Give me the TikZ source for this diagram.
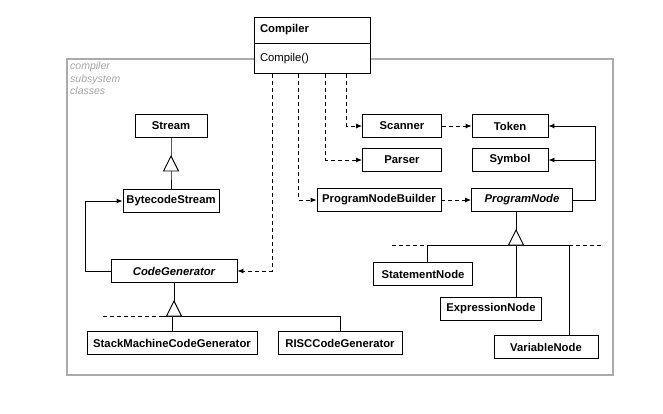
\documentclass[tikz,border=0pt]{standalone}
\usepackage{fontspec}
\setmainfont{Liberation Sans}
\usetikzlibrary{arrows.meta, calc}
\definecolor{FrameGray}{HTML}{ABABAB}
\definecolor{NoteGray}{HTML}{A3A3A3}
\tikzset{
  cls/.style={draw=black, line width=0.9pt, fill=white, minimum height=23pt, inner sep=2pt, font=\fontsize{11.3}{13}\selectfont\bfseries},
  abscls/.style={cls, font=\fontsize{11.3}{13}\selectfont\bfseries\itshape},
  head/.style={draw=black, line width=0.9pt, fill=white, minimum width=116pt, text width=104pt, align=left, inner sep=0pt, font=\fontsize{11.3}{13}\selectfont},
  assoc/.style={-{Latex[length=6pt,width=5pt]}, line width=0.9pt},
  dep/.style={assoc, dash pattern=on 4pt off 3pt},
  line/.style={line width=0.9pt},
  dline/.style={line width=0.9pt, dash pattern=on 4pt off 3pt},
  inherit/.style={line width=0.9pt, fill=white, line join=miter}
}

\begin{document}
\begin{tikzpicture}[x=1pt, y=-1pt]
\useasboundingbox (0,0) rectangle (663,413);
% subsystem frame
\draw[FrameGray, line width=2pt] (67,59) rectangle (613,375);
\node[anchor=north west, inner sep=0pt, align=left, text=NoteGray, font=\fontsize{10.5}{12.2}\selectfont\itshape] (note) at (70,62) {compiler\\subsystem\\classes};

% compiler class
\node[head, minimum height=26pt, font=\fontsize{11.3}{13}\selectfont\bfseries] (comp) at (312,30) {Compiler};
\node[head, minimum height=30pt, anchor=north] (compop) at (comp.south) {Compile()};

% code generation side
\node[cls, minimum width=72pt] (stream) at (171,126) {Stream};
\node[cls, minimum width=96pt] (bstream) at (171,201) {BytecodeStream};
\node[abscls, minimum width=126pt] (codegen) at (174,271) {CodeGenerator};
\node[cls, minimum width=170pt] (smcg) at (172,343) {StackMachineCodeGenerator};
\node[cls, minimum width=124pt] (riscg) at (340,343) {RISCCodeGenerator};

% parsing side
\node[cls, minimum width=79pt] (scanner) at (402,126) {Scanner};
\node[cls, minimum width=76pt] (token) at (510,126) {Token};
\node[cls, minimum width=79pt] (parser) at (402,160) {Parser};
\node[cls, minimum width=76pt] (symbol) at (510,160) {Symbol};
\node[cls, minimum width=124pt] (pnb) at (379,200) {ProgramNodeBuilder};
\node[abscls, minimum width=101pt] (pnode) at (522,200) {ProgramNode};
\node[cls, minimum width=99pt] (stmt) at (423,274) {StatementNode};
\node[cls, minimum width=101pt] (expr) at (491,309) {ExpressionNode};
\node[cls, minimum width=104pt] (var) at (546,347) {VariableNode};

% inheritance: Stream
\coordinate (t1) at (stream.south |- 0,171);
\draw[line] (stream.south) -- (t1) -- (bstream.north);
\draw[inherit] (t1) ++(-7.5,0) -- ++(7.5,-15) -- ++(7.5,15) -- cycle;

% inheritance: CodeGenerator
\coordinate (t2) at (codegen.south |- 0,316);
\draw[line] (codegen.south) -- (t2);
\draw[dline] (103,316) -- (163,316);
\draw[line] (163,316) -| (riscg.north);
\draw[line] (smcg.north |- t2) -- (smcg.north);
\draw[inherit] (t2) ++(-7.5,0) -- ++(7.5,-15) -- ++(7.5,15) -- cycle;

% inheritance: ProgramNode
\coordinate (t3) at ([xshift=-6pt]pnode.south |- 0,245);
\coordinate (stop) at ([xshift=4pt]stmt.north);
\coordinate (vtop) at ([xshift=23pt]var.north);
\draw[line] ([xshift=-6pt]pnode.south) -- (t3);
\draw[dline] (392,245) -- (stop |- t3);
\draw[line] (stop |- t3) -- (vtop |- t3);
\draw[dline] (vtop |- t3) -- (604,245);
\draw[line] (stop |- t3) -- (stop);
\draw[line] (t3) -- (t3 |- expr.north);
\draw[line] (vtop |- t3) -- (vtop);
\draw[inherit] (t3) ++(-7.5,0) -- ++(7.5,-15) -- ++(7.5,15) -- cycle;

% compiler uses
\draw[dep] ([xshift=93pt]compop.south west) |- (scanner.west);
\draw[dep] ([xshift=72pt]compop.south west) |- (parser.west);
\draw[dep] ([xshift=45pt]compop.south west) |- (pnb.west);
\draw[dep] ([xshift=19pt]compop.south west) |- (codegen.east);

% acquaintances
\draw[dep] (scanner.east) -- (token.west);
\draw[dep] (pnb.east) -- (pnode.west);
\coordinate (pnr) at ([xshift=22pt]pnode.east);
\draw[assoc] (pnode.east) -- (pnr) |- (token.east);
\draw[assoc] (pnr |- symbol.east) -- (symbol.east);
\coordinate (cgl) at ([xshift=-25pt]codegen.west);
\draw[assoc] (codegen.west) -- (cgl) |- (bstream.west);
\end{tikzpicture}
\end{document}
